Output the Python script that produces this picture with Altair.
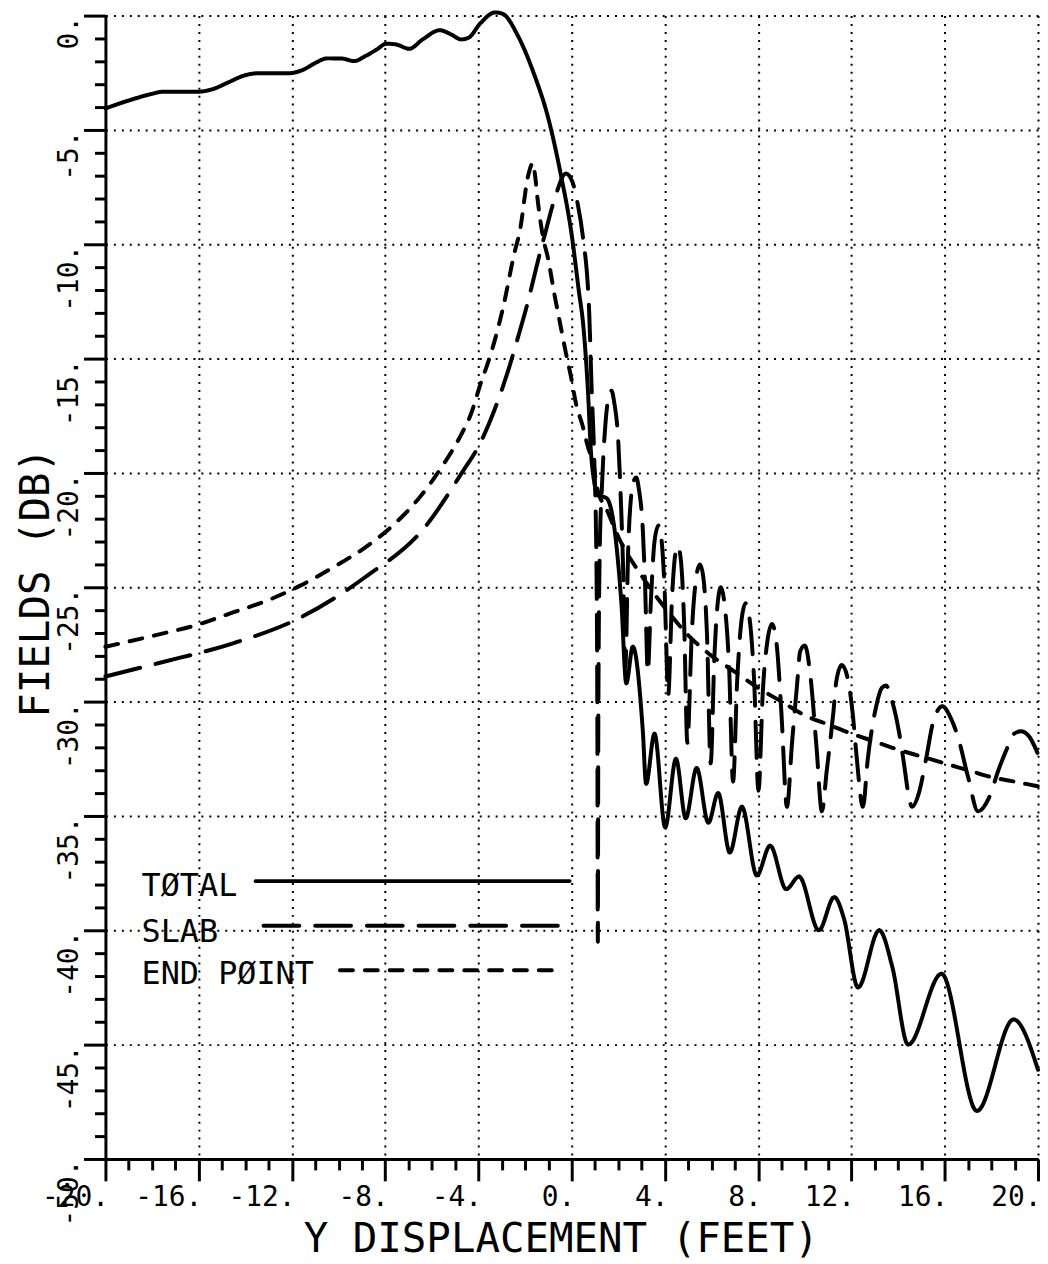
import altair as alt
import pandas as pd

# ---------------- data ----------------
total_x = [-20, -19.02, -18.03, -17.54, -16.07, -15.41, -14.75, -14.1, -13.44, -12.13,
           -11.48, -10.98, -10.49, -9.84, -9.34, -8.85, -8.36, -7.95, -7.54, -6.97,
           -6.39, -5.66, -5.16, -4.75, -4.43, -3.93, -3.28, -2.95, -2.3, -1.64,
           -0.98, -0.49, 0.0, 0.3, 0.5, 0.7, 0.82, 0.95, 1.13, 1.49,
           1.84, 2.13, 2.34, 2.62, 3.05, 3.19, 3.55, 4.01, 4.47, 4.89,
           5.36, 5.86, 6.28, 6.78, 7.3, 7.94, 8.51, 9.2, 9.75, 10.6,
           11.26, 11.68, 12.28, 13.19, 13.75, 14.43, 15.86, 17.38, 18.95, 20.0]
total_y = [-4.06, -3.72, -3.43, -3.33, -3.33, -3.22, -2.93, -2.64, -2.52, -2.52,
           -2.35, -2.06, -1.87, -1.88, -1.99, -1.77, -1.48, -1.23, -1.26, -1.45,
           -1.04, -0.64, -0.83, -1.04, -0.97, -0.35, 0.14, 0.07, -0.9, -2.49,
           -4.59, -6.84, -9.6, -12.0, -13.6, -16.5, -19.0, -20.3, -20.98, -21.1,
           -22.5, -25.7, -29.2, -27.6, -31.3, -33.6, -31.4, -35.5, -32.5, -35.1,
           -32.9, -35.3, -34.0, -36.6, -34.6, -37.6, -36.3, -38.2, -37.65, -40.0,
           -38.55, -39.5, -42.5, -40.0, -41.6, -45.0, -41.9, -47.9, -43.9, -46.1]

slab_x = [-20, -17.66, -14.53, -11.69, -8.85, -6.36, -4.59, -4.07, -3.15, -2.72,
          -2.23, -1.94, -1.38, -1.16, -0.7, -0.25, 0.04, 0.25, 0.47, 0.75,
          0.85, 0.97, 1.06, 1.1, 1.12, 1.14, 1.2, 1.3, 1.45, 1.6,
          1.71, 1.82, 1.99, 2.1, 2.2, 2.3, 2.42, 2.56, 2.68, 2.77,
          2.88, 3.05, 3.15, 3.26, 3.4, 3.55, 3.72, 3.85, 3.98, 4.14,
          4.3, 4.45, 4.55, 4.68, 4.82, 4.96, 5.15, 5.35, 5.5, 5.65,
          5.8, 5.96, 6.12, 6.27, 6.4, 6.55, 6.75, 6.92, 7.1, 7.3,
          7.46, 7.62, 7.82, 8.01, 8.2, 8.4, 8.59, 8.8, 9.0, 9.23,
          9.45, 9.67, 9.8, 10.0, 10.24, 10.5, 10.73, 10.94, 11.22, 11.35,
          11.58, 11.86, 12.05, 12.21, 12.49, 12.7, 13.06, 13.3, 13.48, 13.75,
          14.05, 14.19, 14.6, 14.89, 15.2, 15.5, 15.9, 16.25, 16.58, 17.0,
          17.43, 17.9, 18.3, 18.65, 18.98, 19.26, 19.6, 20.0]
slab_y = [-28.9, -28.3, -27.45, -26.35, -24.55, -22.45, -19.8, -18.97, -16.8, -15.5,
          -13.8, -12.75, -10.45, -9.6, -7.9, -6.9, -7.3, -8.2, -9.6, -13.0,
          -16.2, -19.5, -24.0, -31.0, -40.5, -31.0, -23.5, -20.5, -17.8, -16.6,
          -16.4, -16.9, -18.5, -21.0, -24.0, -28.5, -23.4, -20.9, -20.3, -20.2,
          -20.7, -22.5, -25.0, -28.7, -25.5, -23.0, -22.3, -22.9, -25.0, -29.7,
          -25.5, -23.5, -23.2, -23.8, -26.5, -31.8, -27.0, -24.5, -24.0, -24.6,
          -27.0, -32.7, -28.0, -25.6, -25.0, -25.7, -28.5, -33.5, -29.0, -26.3,
          -25.7, -26.3, -29.0, -33.9, -29.5, -27.3, -26.6, -27.6, -30.6, -34.6,
          -31.8, -29.2, -27.8, -27.55, -28.9, -32.0, -34.8, -33.0, -30.5, -29.1,
          -28.4, -29.1, -30.5, -32.3, -34.6, -32.5, -30.2, -29.4, -29.3, -30.0,
          -31.4, -32.3, -34.6, -34.0, -32.5, -30.9, -30.2, -30.7, -31.6, -33.3,
          -34.8, -34.2, -33.0, -32.1, -31.4, -31.3, -31.5, -32.3]

endpoint_x = [-20, -17.66, -16.09, -14.53, -13.11, -11.69, -10.27, -8.85, -7.57, -6.51,
              -5.58, -4.73, -4.35, -3.86, -3.65, -3.22, -2.94, -2.44, -2.23, -1.87,
              -1.66, -1.59, -1.45, -1.23, -1.02, -0.74, -0.52, -0.24, -0.03, 0.18,
              0.47, 0.68, 0.94, 1.1, 1.5, 2.0, 3.0, 4.0, 5.0, 6.0,
              7.0, 8.0, 9.0, 10.0, 11.0, 12.0, 13.0, 14.0, 15.0, 16.0,
              17.0, 18.0, 19.0, 20.0]
endpoint_y = [-27.6, -27.05, -26.65, -26.1, -25.6, -24.95, -24.15, -23.25, -22.2, -21.05,
              -19.75, -18.3, -17.5, -15.95, -15.35, -13.9, -12.75, -10.3, -9.45, -7.0,
              -6.45, -6.85, -8.15, -9.7, -10.6, -12.2, -13.35, -14.8, -15.8, -16.95,
              -17.95, -18.8, -19.7, -20.7, -21.6, -22.8, -24.5, -25.9, -27.1, -28.0,
              -28.7, -29.4, -30.0, -30.6, -31.0, -31.4, -31.75, -32.1, -32.4, -32.7,
              -33.0, -33.3, -33.5, -33.7]

legend_labels = ["TØTAL", "SLAB", "END PØINT"]
x_tick_values = list(range(-20, 21))
y_tick_values = list(range(-50, 1))

# ---------------- layout / style (not data) ----------------
FONT = "DejaVu Sans Mono"
W, H = 938, 1150
LW = 4
DASH = {"TOTAL": [1, 0], "SLAB": [36, 16], "END POINT": [13, 12]}
LEG_TEXT_X = -18.45
LEG_TEXT_Y = [-38.5, -40.5, -42.37]
LEG_LINE_X1 = [-13.56, -13.22, -9.94]
LEG_LINE_X2 = [-0.09, -0.3, -0.43]
LEG_LINE_Y = [-37.85, -39.8, -41.75]

xscale = alt.Scale(domain=[-20, 20], nice=False, zero=False)
yscale = alt.Scale(domain=[-50, 0], nice=False, zero=False)

x_axis = alt.Axis(
    values=x_tick_values,
    labelExpr="datum.value % 4 === 0 ? datum.value + '.' : ''",
    tickSize={"condition": {"test": "datum.value % 4 === 0", "value": 22}, "value": 11},
    gridOpacity={"condition": {"test": "datum.value % 4 === 0", "value": 1}, "value": 0},
    labelAlign="right", labelBaseline="top", labelOffset=3, labelPadding=3,
    labelFontSize=28, labelOverlap=False, labelFlush=False, labelBound=False,
    title="Y DISPLACEMENT (FEET)", titleFontSize=41, titleX=458, titleY=93,
    titleAlign="center", titleBaseline="alphabetic", titleAngle=0,
)
y_axis = alt.Axis(
    values=y_tick_values,
    labelExpr="datum.value % 5 === 0 ? datum.value + '.' : ''",
    tickSize={"condition": {"test": "datum.value % 5 === 0", "value": 22}, "value": 11},
    gridOpacity={"condition": {"test": "datum.value % 5 === 0", "value": 1}, "value": 0},
    labelAngle=270, labelAlign="right", labelBaseline="alphabetic", labelPadding=6,
    labelFontSize=28, labelOverlap=False, labelFlush=False, labelBound=False,
    title="FIELDS (DB)", titleFontSize=41, titleAngle=270, titleX=-57, titleY=570,
    titleAlign="center", titleBaseline="alphabetic",
)

def curve(xs, ys, name):
    df = pd.DataFrame({"x": xs, "y": ys})
    return alt.Chart(df).mark_line(
        color="black", strokeWidth=LW, interpolate="monotone",
        strokeDash=DASH[name], strokeCap="round", strokeJoin="round", clip=False,
    ).encode(
        x=alt.X("x:Q", scale=xscale, axis=x_axis),
        y=alt.Y("y:Q", scale=yscale, axis=y_axis),
    )

names = ["TOTAL", "SLAB", "END POINT"]
layers = [
    curve(endpoint_x, endpoint_y, "END POINT"),
    curve(slab_x, slab_y, "SLAB"),
    curve(total_x, total_y, "TOTAL"),
]

for i, name in enumerate(names):
    ldf = pd.DataFrame({"x": [LEG_LINE_X1[i]], "x2": [LEG_LINE_X2[i]], "y": [LEG_LINE_Y[i]]})
    layers.append(
        alt.Chart(ldf).mark_rule(color="black", strokeWidth=LW, strokeDash=DASH[name],
                                 strokeCap="round").encode(
            x=alt.X("x:Q", scale=xscale, axis=x_axis),
            x2="x2:Q",
            y=alt.Y("y:Q", scale=yscale, axis=y_axis),
        )
    )

tdf = pd.DataFrame({"label": legend_labels, "x": [LEG_TEXT_X] * 3, "y": LEG_TEXT_Y})
layers.append(
    alt.Chart(tdf).mark_text(align="left", baseline="alphabetic", font=FONT,
                             fontSize=32, color="black").encode(
        x=alt.X("x:Q", scale=xscale, axis=x_axis),
        y=alt.Y("y:Q", scale=yscale, axis=y_axis),
        text="label:N",
    )
)

chart = alt.layer(*layers).properties(
    width=W, height=H,
    autosize=alt.AutoSizeParams(type="none"),
    padding={"left": 98, "top": 4, "right": 2, "bottom": 102},
    background="white",
).configure_view(strokeWidth=0).configure_axis(
    domainColor="black", domainWidth=3, tickColor="black", tickWidth=3,
    gridColor="black", gridDash=[2, 6], gridWidth=2,
    labelColor="black", titleColor="black", labelFont=FONT, titleFont=FONT,
    titleFontWeight="normal", labelFontWeight="normal",
)

chart.save("out.html", embed_options={"renderer": "svg", "actions": False})
